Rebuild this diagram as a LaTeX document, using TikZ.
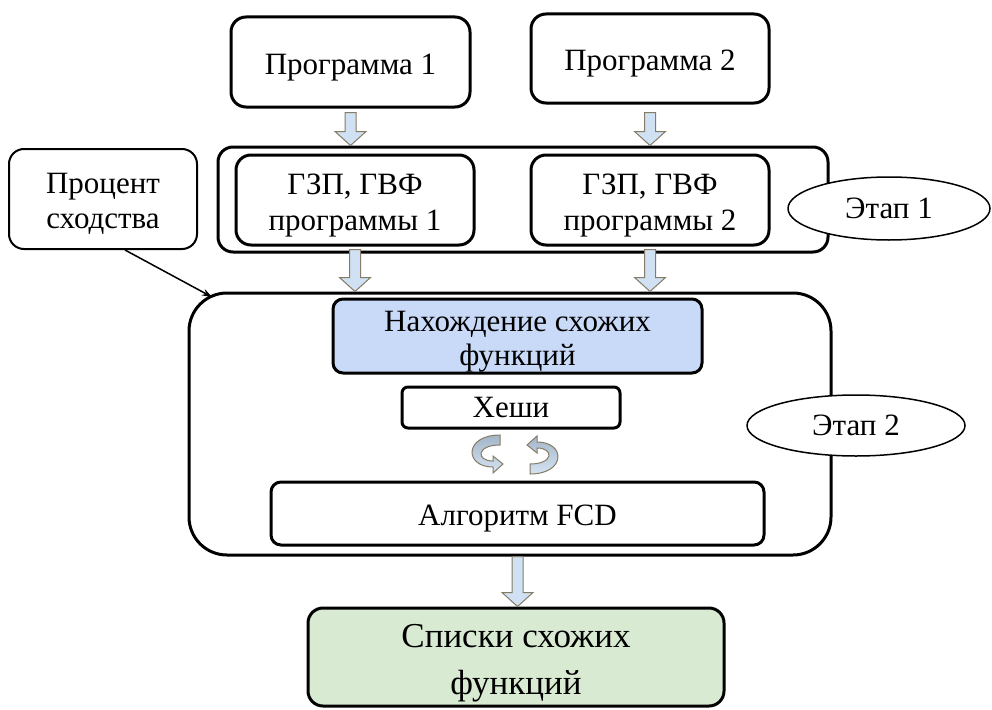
\documentclass[tikz,border=0pt]{standalone}
\usepackage{fontspec}
\setmainfont{Liberation Serif}
\newfontfamily\diagfont{Liberation Serif}
\usetikzlibrary{shapes,arrows.meta,positioning,calc}

\definecolor{arrowfill}{HTML}{CFE1F3}
\definecolor{arrowline}{HTML}{857B66}
\definecolor{findfill}{HTML}{C9DAF8}
\definecolor{listfill}{HTML}{D9EAD3}
\definecolor{curldark}{HTML}{A3B5C9}
\definecolor{curllight}{HTML}{D5E4F3}

\tikzset{
  box/.style={draw, line width=3pt, rounded corners=15pt, align=center, inner sep=0pt,
    font=\diagfont\fontsize{31}{36}\selectfont},
  stagebox/.style={draw, line width=3pt, rounded corners=15pt, inner sep=0pt},
  stagelabel/.style={draw, ellipse, fill=white, line width=1.5pt, inner sep=0pt,
    font=\diagfont\fontsize{31}{36}\selectfont},
  textdrop/.style={execute at begin node={\rule{0pt}{#1}}},
  fatarrowstyle/.style={draw=arrowline, fill=arrowfill, line width=1pt, line join=miter},
  curl/.style={draw=arrowline, line width=1pt, top color=curldark, bottom color=curllight}
}

% strut that pushes the first text line down
\newcommand{\lift}[1]{\rule{0pt}{#1}}

\newcommand{\fatarrow}[2]{%
  \draw[fatarrowstyle] let \p1=(#1), \p2=(#2) in
    (\x1-5.5pt,\y1) -- (\x1+5.5pt,\y1) -- (\x1+5.5pt,\y2+14pt) -- (\x1+15.5pt,\y2+14pt)
    -- (\x1,\y2) -- (\x1-15.5pt,\y2+14pt) -- (\x1-5.5pt,\y2+14pt) -- cycle;}

\begin{document}
\begin{tikzpicture}[x=1pt,y=1pt]
  \useasboundingbox (0,0) rectangle (992,-709);

  % programs
  \node[box, textdrop=31pt, minimum width=239pt, minimum height=90pt] (prog1) at (350.5,-62) {Программа 1};
  \node[box, textdrop=31pt, minimum width=238pt, minimum height=89pt] (prog2) at (650,-58.5) {Программа 2};

  % stage 1
  \node[stagebox, minimum width=610pt, minimum height=105pt] (stage1) at (523,-199.5) {};
  \node[box, minimum width=238pt, minimum height=90pt] (gvf1) at (355,-200) {\lift{31pt}ГЗП, ГВФ\\программы 1};
  \node[box, minimum width=238pt, minimum height=90pt] (gvf2) at (650,-200) {\lift{31pt}ГЗП, ГВФ\\программы 2};
  \node[stagelabel, minimum width=202pt, minimum height=63pt] (etap1) at (889,-208.5) {Этап 1};

  % similarity threshold
  \node[box, line width=2pt, minimum width=188pt, minimum height=100pt,
    font=\diagfont\fontsize{31}{35}\selectfont] (percent) at (103,-199) {\lift{30.5pt}Процент\\сходства};

  % stage 2
  \node[stagebox, rounded corners=38pt, minimum width=642pt, minimum height=262pt] (stage2) at (510,-424) {};
  \node[box, fill=findfill, rounded corners=10pt, minimum width=369pt, minimum height=74pt,
    font=\diagfont\fontsize{31}{34}\selectfont] (find) at (517.5,-336) {\lift{31pt}Нахождение схожих\\функций};
  \node[box, rounded corners=6pt, minimum width=218pt, minimum height=41pt] (hash) at (511,-407.5) {Хеши};
  \node[box, textdrop=31pt, rounded corners=10pt, minimum width=493pt, minimum height=63pt] (fcd) at (517.5,-513.5) {Алгоритм FCD};
  \node[stagelabel, minimum width=218pt, minimum height=61pt] (etap2) at (856,-425.5) {Этап 2};

  % result
  \node[box, fill=listfill, minimum width=416pt, minimum height=98pt,
    font=\diagfont\fontsize{35}{47}\selectfont] (lists) at (516,-657) {\lift{36pt}Списки схожих\\функций};

  % block arrows
  \fatarrow{[yshift=-4pt]prog1.south}{stage1.north}
  \fatarrow{[yshift=-8pt]prog2.south}{stage1.north}
  \fatarrow{[yshift=-3pt]gvf1.south}{stage2.north}
  \fatarrow{[yshift=-3pt]gvf2.south}{stage2.north}
  \fatarrow{fcd.south |- stage2.south}{lists.north}

  % threshold arrow
  \coordinate (perctip) at (212,-297);
  \draw[-{Stealth[length=10pt,width=7pt]}, line width=1.5pt] ([xshift=22pt]percent.south) -- (perctip);

  % exchange arrows
  \begin{scope}[shift={(488,-454)}]
    \draw[curl] (12,19) .. controls (-24,19) and (-24,-13) .. (5,-13) -- (5,-19) -- (15,-10)
      -- (5,-2) -- (5,-7) .. controls (-12,-7) and (-12,9) .. (12,9) -- cycle;
  \end{scope}
  \begin{scope}[shift={(542,-455)}, rotate=180]
    \draw[curl] (12,19) .. controls (-24,19) and (-24,-13) .. (5,-13) -- (5,-19) -- (15,-10)
      -- (5,-2) -- (5,-7) .. controls (-12,-7) and (-12,9) .. (12,9) -- cycle;
  \end{scope}
\end{tikzpicture}
\end{document}
